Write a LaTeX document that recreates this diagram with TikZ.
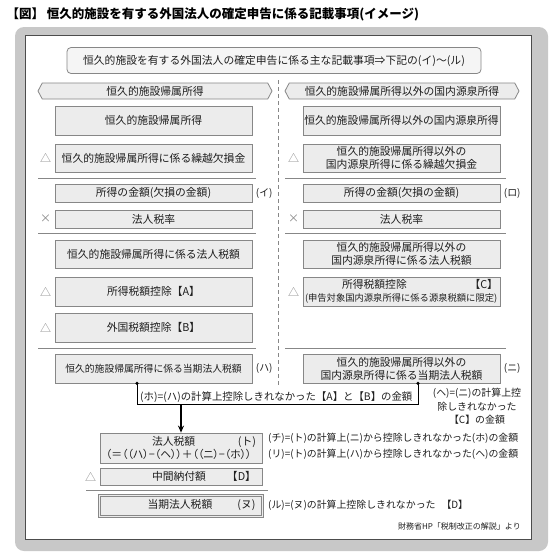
\documentclass[tikz,border=0pt]{standalone}
\usepackage{fontspec}
\setmainfont{Noto Sans CJK JP}
\usetikzlibrary{calc,arrows.meta,positioning,shapes.symbols}
\definecolor{frameGray}{RGB}{200,200,200}
\definecolor{boxFill}{RGB}{236,236,236}
\definecolor{boxLine}{RGB}{135,135,135}
\definecolor{inkGray}{RGB}{30,30,30}
\newcommand{\BoxFont}{\fontsize{10.8}{13}\selectfont}
\newcommand{\NoteFont}{\fontsize{9.9}{13.5}\selectfont}
\tikzset{
  kbox/.style={draw=boxLine,fill=boxFill,line width=0.8pt,minimum width=197pt,inner sep=1pt,align=center,font=\BoxFont,text=inkGray},
  hdr/.style={signal,signal to=west and east,signal pointer angle=124,draw=boxLine,fill=boxFill,line width=0.8pt,minimum width=234pt,minimum height=16pt,inner sep=0pt,font=\BoxFont,text=inkGray},
  sym/.style={text=boxLine,font=\fontsize{11}{11}\selectfont},
  tag/.style={text=inkGray,font=\NoteFont},
  note/.style={text=inkGray,font=\NoteFont,inner sep=0pt},
  sepline/.style={draw=boxLine,line width=0.6pt}
}

\begin{document}
\begin{tikzpicture}[x=1pt,y=-1pt]
\useasboundingbox (0,0) rectangle (550,557);
% frame
\fill[frameGray,rounded corners=9pt] (15,27) rectangle (548,551);
\draw[fill=white,draw=black!70,line width=0.8pt] (25,35) rectangle (531,539);
\node[anchor=west,text=black,font=\fontsize{12.5}{12.5}\selectfont\bfseries] (title) at (3,14) {【図】 恒久的施設を有する外国法人の確定申告に係る記載事項(イメージ)};
\node[draw=boxLine,fill=boxFill!55,rounded corners=4pt,line width=0.8pt,minimum width=414pt,minimum height=26pt,font=\BoxFont,text=inkGray] (top) at (274,60.5) {恒久的施設を有する外国法人の確定申告に係る主な記載事項⇒下記の(イ)～(ル)};

% two columns
\draw[dashed,dash pattern=on 4pt off 3pt,boxLine,line width=0.6pt] (278,80) -- (278,386);
\node[hdr] (hL) at (155,91) {恒久的施設帰属所得};
\node[hdr] (hR) at (402,91) {恒久的施設帰属所得以外の国内源泉所得};
\foreach \y in {178,233,348} {
  \draw[sepline] (38,\y) -- (256,\y);
  \draw[sepline] (285,\y) -- (506,\y);
}

% left column
\node[kbox,minimum height=29pt] (pL1) at (153.5,120.5) {恒久的施設帰属所得};
\node[kbox,minimum height=28pt] (pL2) at (153.5,158) {恒久的施設帰属所得に係る繰越欠損金};
\node[kbox,minimum height=18pt] (pL3) at (153.5,193) {所得の金額(欠損の金額)};
\node[kbox,minimum height=18pt] (pL4) at (153.5,219) {法人税率};
\node[kbox,minimum height=28pt] (pL5) at (153.5,254) {恒久的施設帰属所得に係る法人税額};
\node[kbox,minimum height=29pt] (pL6) at (153.5,291.5) {所得税額控除【A】};
\node[kbox,minimum height=29pt] (pL7) at (153.5,327.5) {外国税額控除【B】};
\node[kbox,minimum height=29pt,font=\fontsize{9.8}{12}\selectfont] (pL8) at (153.5,368.5) {恒久的施設帰属所得に係る当期法人税額};
\node[sym,left=0pt of pL2] (sL2) {△};
\node[sym,left=0pt of pL4] (sL4) {×};
\node[sym,left=0pt of pL6] (sL6) {△};
\node[sym,left=0pt of pL7] (sL7) {△};
\node[tag,right=0pt of pL3] (tI) {(イ)};
\node[tag,right=0pt of pL8] (tHa) {(ハ)};

% right column
\node[kbox,minimum height=29pt] (pR1) at (401.5,120.5) {恒久的施設帰属所得以外の国内源泉所得};
\node[kbox,minimum height=28pt] (pR2) at (401.5,158) {恒久的施設帰属所得以外の\\国内源泉所得に係る繰越欠損金};
\node[kbox,minimum height=18pt] (pR3) at (401.5,193) {所得の金額(欠損の金額)};
\node[kbox,minimum height=18pt] (pR4) at (401.5,219) {法人税率};
\node[kbox,minimum height=28pt] (pR5) at (401.5,254) {恒久的施設帰属所得以外の\\国内源泉所得に係る法人税額};
\node[kbox,minimum height=29pt,text width=193pt,align=left] (pR6) at (401.5,291.5) {\hspace*{37pt}所得税額控除\hfill【C】\\{\fontsize{9.3}{13}\selectfont(申告対象国内源泉所得に係る源泉税額に限定)}};
\node[kbox,minimum height=29pt] (pR8) at (401.5,368.5) {恒久的施設帰属所得以外の\\国内源泉所得に係る当期法人税額};
\node[sym,left=0pt of pR2] (sR2) {△};
\node[sym,left=0pt of pR4] (sR4) {×};
\node[sym,left=0pt of pR6] (sR6) {△};
\node[tag,right=0pt of pR3] (tRo) {(ロ)};
\node[tag,right=0pt of pR8] (tNi) {(ニ)};

% carry-over connector
\coordinate (hoL) at ($(pL8.south)+(-16.5,0)$);
\coordinate (hoR) at ($(pR8.south)+(16.5,0)$);
\coordinate (hoJoin) at ($(hoL)+(0,21)$);
\draw[line width=1pt,black] (hoL) -- (hoJoin) -| (hoR);
\fill (hoL) circle (1.8pt);
\fill (hoR) circle (1.8pt);
\node[note,anchor=south west,font=\fontsize{10.4}{12}\selectfont] (hoTxt) at ($(hoL)+(3,19)$) {(ホ)=(ハ)の計算上控除しきれなかった【A】と【B】の金額};
\node[note,align=center] (heTxt) at (477,406.5) {(ヘ)=(ニ)の計算上控\\除しきれなかった\\【C】の金額};

% bottom block
\node[kbox,minimum width=162pt,minimum height=30pt,text width=150pt,align=left] (tax) at (181,448) {\hspace*{46pt}法人税額\hfill(ト)\\{\addfontfeature{RawFeature=+palt}（＝（（ハ）−（ヘ））＋（（ニ）−（ホ））}};
\draw[-{Stealth[length=7pt,width=6pt]},line width=1.2pt] (tax.north |- hoJoin) -- (tax.north);
\node[kbox,minimum width=162pt,minimum height=17pt,text width=150pt,align=left] (chukan) at (181,476.5) {\hspace*{46pt}中間納付額\hfill【D】};
\node[sym,left=0pt of chukan] (sC) {△};
\draw[sepline] (86,490) -- (268,490);
\node[kbox,minimum width=165pt,minimum height=23pt,text width=150pt,align=left] (toki) at (180.5,505.5) {\hspace*{42pt}当期法人税額\hfill(ヌ)};
\draw[boxLine,line width=0.6pt] ($(toki.north west)+(2.2,2.2)$) rectangle ($(toki.south east)+(-2.2,-2.2)$);
\node[note,anchor=west] (chiTxt) at (268,438) {(チ)=(ト)の計算上(ニ)から控除しきれなかった(ホ)の金額};
\node[note,anchor=west] (riTxt) at (268,454) {(リ)=(ト)の計算上(ハ)から控除しきれなかった(ヘ)の金額};
\node[note,anchor=west] (ruTxt) at (268,505.5) {(ル)=(ヌ)の計算上控除しきれなかった\hspace{0.6em}【D】};
\node[note,anchor=east,font=\fontsize{8}{8}\selectfont] (src) at (521,526) {財務省HP「税制改正の解説」より};
\end{tikzpicture}
\end{document}
